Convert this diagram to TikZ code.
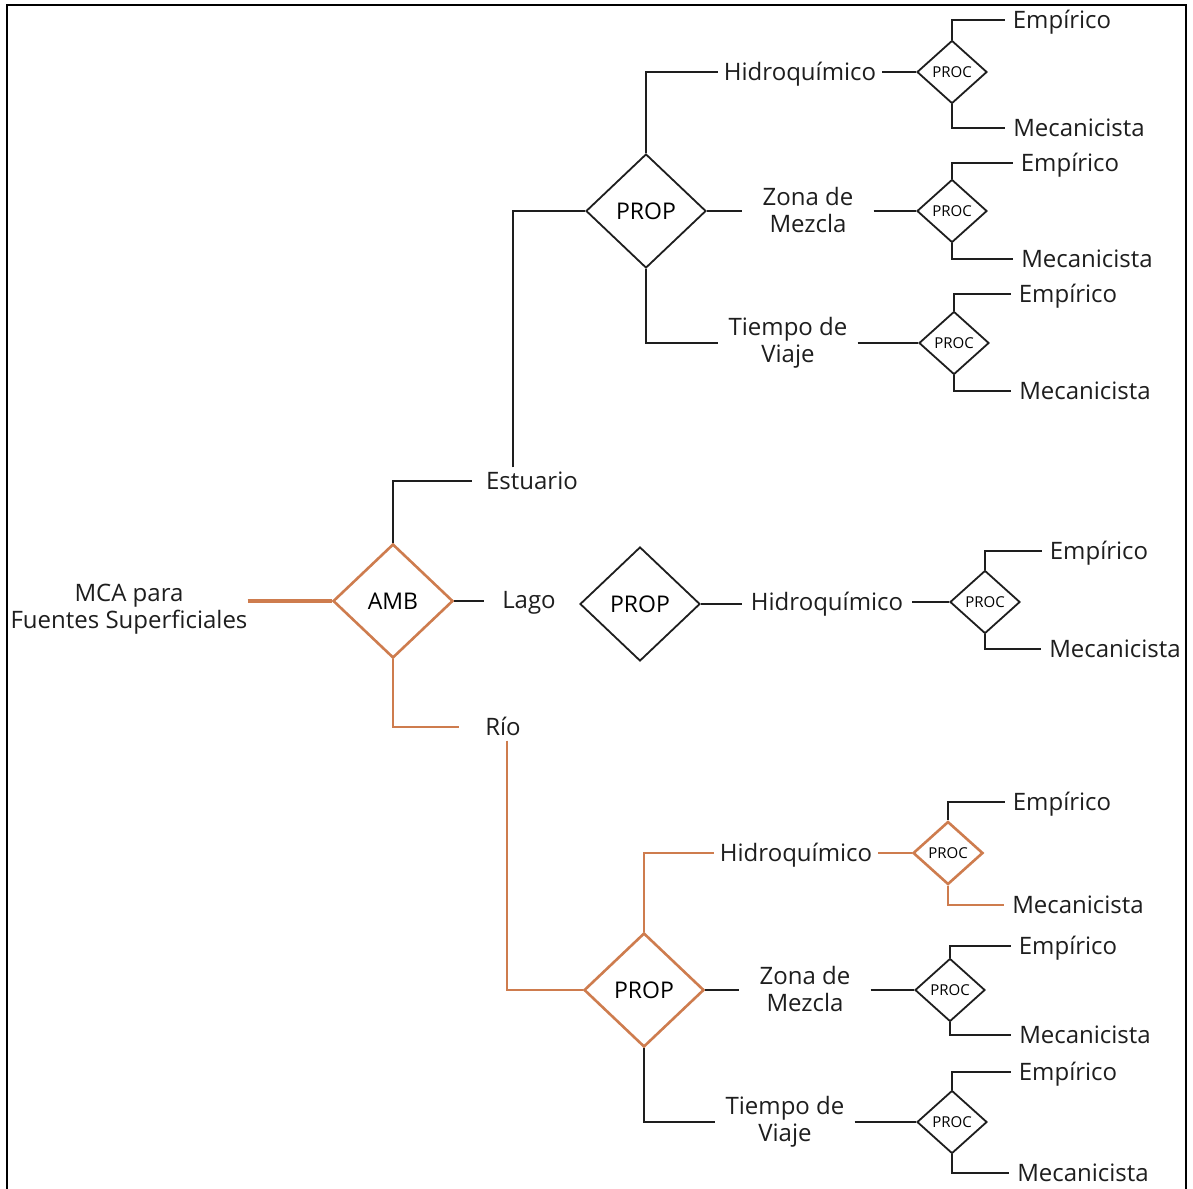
\documentclass[tikz,border=0pt]{standalone}
\usepackage{fontspec}
\setmainfont{Open Sans}
\usetikzlibrary{shapes.geometric}
\definecolor{ocre}{RGB}{206,124,78}
\definecolor{ink}{RGB}{30,30,30}

\begin{document}
\begin{tikzpicture}[x=1pt,y=-1pt,
  lbl/.style={font=\fontsize{24}{28}\selectfont, text=ink, inner ysep=3, inner xsep=8,
              text height=19, text depth=2},
  lbltwo/.style={font=\fontsize{24}{28}\selectfont, text=ink, inner sep=8, align=center},
  propbox/.style={diamond, draw=ink, line width=1.8, inner sep=0, fill=white,
              minimum width=120, minimum height=114, font=\fontsize{23}{27}\selectfont},
  procbox/.style={diamond, draw=ink, line width=1.8, inner sep=0, fill=white,
              minimum width=70, minimum height=63, font=\fontsize{15}{17}\selectfont},
  con/.style={draw=ink, line width=1.8},
  ocon/.style={draw=ocre, line width=2.6},
]
\useasboundingbox (0,0) rectangle (1193,1188);
\fill[white] (0,0) rectangle (1193,1188);
% frame
\draw[line width=2.5, black] (7,1190) -- (7,5) -- (1186,5) -- (1186,1190);

% root and environment choice
\node[lbltwo, inner xsep=0] (mca) at (129,609) {MCA para\\[-1pt]Fuentes Superficiales};
\node[propbox, draw=ocre, line width=2.6] (amb) at (393,601) {AMB};
\node[lbl, inner xsep=14] (est) at (532,481) {Estuario};
\node[lbl, inner xsep=18] (lago) at (529,600) {Lago};
\node[lbl, inner xsep=26] (rio) at (503,727) {Río};

\draw[ocon, line width=4] (mca.east |- amb.west) -- (amb.west);
\draw[con] (amb.north) |- (est.west);
\draw[con] (amb.east) -- (amb.east -| lago.west);
\draw[ocon] (amb.south) |- (rio.west);

% Estuario branch
\node[propbox] (propE) at (646,211) {PROP};
\node[lbl, inner xsep=6] (hE) at (800,72) {Hidroquímico};
\node[lbltwo, inner xsep=20] (zE) at (808,210) {Zona de\\[-1pt]Mezcla};
\node[lbltwo, inner xsep=10] (tE) at (788,343) {Tiempo de\\[-1pt]Viaje};
\draw[con] ([xshift=-19]est.north) |- (propE.west);
\draw[con] (propE.north) |- (hE.west);
\draw[con] (propE.east) -- (propE.east -| zE.west);
\draw[con] (propE.south) |- (tE.west);

\node[procbox] (pE1) at (952,72) {PROC};
\node[lbl] (eE1) at (1062,20) {Empírico};
\node[lbl] (mE1) at (1079,128) {Mecanicista};
\draw[con] (hE.east) -- (pE1.west);
\draw[con] (pE1.north) |- (eE1.west);
\draw[con] (pE1.south) |- (mE1.west);

\node[procbox] (pE2) at (952,211) {PROC};
\node[lbl] (eE2) at (1070,163) {Empírico};
\node[lbl] (mE2) at (1087,259) {Mecanicista};
\draw[con] (zE.east |- pE2.west) -- (pE2.west);
\draw[con] (pE2.north) |- (eE2.west);
\draw[con] (pE2.south) |- (mE2.west);

\node[procbox] (pE3) at (954,343) {PROC};
\node[lbl] (eE3) at (1068,294) {Empírico};
\node[lbl] (mE3) at (1085,391) {Mecanicista};
\draw[con] (tE.east) -- (pE3.west);
\draw[con] (pE3.north) |- (eE3.west);
\draw[con] (pE3.south) |- (mE3.west);

% Lago branch
\node[propbox] (propL) at (640,604) {PROP};
\node[lbl, inner xsep=9] (hL) at (827,602) {Hidroquímico};
\node[procbox] (pL) at (985,602) {PROC};
\node[lbl] (eL) at (1099,551) {Empírico};
\node[lbl] (mL) at (1115,649) {Mecanicista};
\draw[con] (propL.east) -- (propL.east -| hL.west);
\draw[con] (hL.east) -- (pL.west);
\draw[con] (pL.north) |- (eL.west);
\draw[con] (pL.south) |- (mL.west);

% Rio branch
\node[propbox, draw=ocre, line width=2.6] (propR) at (644,990) {PROP};
\node[lbl, inner xsep=6] (hR) at (796,853) {Hidroquímico};
\node[lbltwo, inner xsep=20] (zR) at (805,989) {Zona de\\[-1pt]Mezcla};
\node[lbltwo, inner xsep=10] (tR) at (785,1122) {Tiempo de\\[-1pt]Viaje};
\draw[ocon] ([xshift=4]rio.south) |- (propR.west);
\draw[ocon] (propR.north) |- (hR.west);
\draw[con] (propR.east) -- (propR.east -| zR.west);
\draw[con] (propR.south) |- (tR.west);

\node[procbox, draw=ocre, line width=2.6] (pR1) at (948,853) {PROC};
\node[lbl] (eR1) at (1062,802) {Empírico};
\node[lbl] (mR1) at (1078,905) {Mecanicista};
\draw[ocon] (hR.east) -- (pR1.west);
\draw[con] (pR1.north) |- (eR1.west);
\draw[ocon] (pR1.south) |- (mR1.west);

\node[procbox] (pR2) at (950,990) {PROC};
\node[lbl] (eR2) at (1068,946) {Empírico};
\node[lbl] (mR2) at (1085,1035) {Mecanicista};
\draw[con] (zR.east |- pR2.west) -- (pR2.west);
\draw[con] (pR2.north) |- (eR2.west);
\draw[con] (pR2.south) |- (mR2.west);

\node[procbox] (pR3) at (952,1122) {PROC};
\node[lbl] (eR3) at (1068,1072) {Empírico};
\node[lbl] (mR3) at (1083,1173) {Mecanicista};
\draw[con] (tR.east) -- (pR3.west);
\draw[con] (pR3.north) |- (eR3.west);
\draw[con] (pR3.south) |- (mR3.west);
\end{tikzpicture}
\end{document}
